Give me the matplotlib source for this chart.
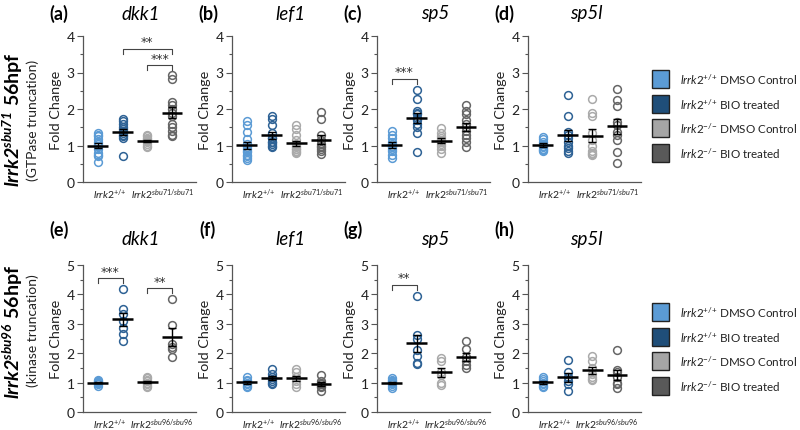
import numpy as np
import matplotlib
matplotlib.use('Agg')
import matplotlib.pyplot as plt
from matplotlib.patches import Rectangle
from matplotlib.ticker import MultipleLocator

FONT = 'Lato'
plt.rcParams['font.family'] = [FONT, 'DejaVu Sans']
plt.rcParams['mathtext.fontset'] = 'custom'
plt.rcParams['mathtext.rm'] = FONT
plt.rcParams['mathtext.it'] = FONT + ':italic'
plt.rcParams['mathtext.bf'] = FONT + ':bold'
plt.rcParams['mathtext.bfit'] = FONT + ':italic:bold'

# ---------------- data ----------------
genes = ['dkk1', 'lef1', 'sp5', 'sp5l']
top_labels = ['(a)', '(b)', '(c)', '(d)']
bottom_labels = ['(e)', '(f)', '(g)', '(h)']
top_xticklabels = [r'$\mathit{lrrk2}^{+/{+}}$', r'$\mathit{lrrk2}^{\mathit{sbu71/sbu71}}$']
bottom_xticklabels = [r'$\mathit{lrrk2}^{+/{+}}$', r'$\mathit{lrrk2}^{\mathit{sbu96/sbu96}}$']
legend_labels = [r'$\mathit{lrrk2}^{+/{+}}$ DMSO Control',
                 r'$\mathit{lrrk2}^{+/{+}}$ BIO treated',
                 r'$\mathit{lrrk2}^{-/{-}}$ DMSO Control',
                 r'$\mathit{lrrk2}^{-/{-}}$ BIO treated']

# sbu71 (top row), groups: WT DMSO, WT BIO, mut DMSO, mut BIO
a_dkk1 = [[1.35, 1.3, 1.25, 1.18, 1.1, 1.05, 1.0, 0.9, 0.8, 0.75, 0.7, 0.55],
          [1.72, 1.68, 1.6, 1.5, 1.45, 1.4, 1.35, 1.3, 1.25, 1.2, 0.72],
          [1.28, 1.25, 1.2, 1.18, 1.15, 1.12, 1.1, 1.05, 1.0, 0.95],
          [2.92, 2.83, 2.2, 2.1, 2.0, 1.9, 1.8, 1.6, 1.5, 1.4, 1.3, 1.25]]
b_lef1 = [[1.68, 1.56, 1.37, 1.18, 1.05, 0.95, 0.9, 0.85, 0.82, 0.75, 0.7, 0.65, 0.6],
          [1.8, 1.72, 1.55, 1.35, 1.2, 1.2, 1.1, 1.1, 1.05, 1.0, 0.95],
          [1.55, 1.45, 1.3, 1.15, 1.05, 1.0, 0.95, 0.9, 0.9, 0.85, 0.82, 0.8],
          [1.92, 1.72, 1.3, 1.15, 1.05, 1.0, 0.95, 0.9, 0.85, 0.78]]
c_sp5 = [[1.4, 1.3, 1.2, 1.1, 1.05, 1.0, 0.95, 0.9, 0.85, 0.75, 0.65],
         [2.52, 2.27, 1.95, 1.9, 1.85, 1.75, 1.7, 1.6, 1.5, 1.35, 0.82],
         [1.48, 1.35, 1.25, 1.2, 1.15, 1.1, 1.05, 1.0, 0.9, 0.8],
         [2.12, 1.95, 1.85, 1.7, 1.6, 1.5, 1.4, 1.3, 1.2, 1.1, 0.95]]
d_sp5l = [[1.22, 1.18, 1.1, 1.05, 1.0, 0.95, 0.9, 0.88, 0.85],
          [2.39, 1.8, 1.38, 1.3, 1.2, 1.1, 1.0, 0.92, 0.85, 0.8],
          [2.27, 1.9, 1.82, 1.35, 1.15, 1.0, 0.85, 0.8, 0.78, 0.75],
          [2.55, 2.25, 2.08, 1.65, 1.55, 1.38, 1.3, 1.15, 0.82, 0.53]]
# sbu96 (bottom row)
e_dkk1 = [[1.08, 1.05, 1.02, 1.0, 0.98, 0.95, 0.9],
          [4.2, 3.5, 3.35, 3.1, 2.85, 2.65, 2.4],
          [1.2, 1.15, 1.1, 1.05, 1.0, 0.95, 0.9, 0.85],
          [3.85, 2.97, 2.3, 2.2, 2.15, 1.87]]
f_lef1 = [[1.2, 1.1, 1.05, 1.0, 0.95, 0.9, 0.85],
          [1.45, 1.3, 1.2, 1.12, 1.05, 1.0, 0.95],
          [1.45, 1.35, 1.2, 1.05, 0.95, 0.85],
          [1.25, 1.05, 1.0, 0.95, 0.9, 0.85, 0.72]]
g_sp5 = [[1.15, 1.1, 1.05, 1.02, 1.0, 0.95, 0.9, 0.83],
         [3.93, 2.62, 2.5, 2.1, 1.9, 1.65, 1.62],
         [1.82, 1.75, 1.35, 1.25, 1.0, 0.93],
         [2.42, 2.15, 1.88, 1.72, 1.6, 1.5]]
h_sp5l = [[1.18, 1.12, 1.05, 1.0, 0.95, 0.9, 0.85],
          [1.78, 1.35, 1.2, 1.05, 0.95, 0.72],
          [1.92, 1.75, 1.5, 1.3, 1.2, 1.12, 1.1],
          [2.1, 1.42, 1.35, 1.2, 1.0, 0.95, 0.8]]

top_data = [a_dkk1, b_lef1, c_sp5, d_sp5l]
bottom_data = [e_dkk1, f_lef1, g_sp5, h_sp5l]

# significance brackets: (panel index, group from, group to, height, label)
top_sig = [(0, 1, 3, 3.65, '**'), (0, 2, 3, 3.2, '***'), (2, 0, 1, 2.83, '***')]
bottom_sig = [(0, 0, 1, 4.55, '***'), (0, 2, 3, 4.21, '**'), (2, 0, 1, 4.33, '**')]

marker_colors = ['#5B9BD5', '#2E6295', '#AAAAAA', '#666666']
legend_colors = ['#5B9BD5', '#1F4E79', '#A5A5A5', '#595959']

# ---------------- figure ----------------
W, H = 800, 431
fig = plt.figure(figsize=(8.0, 4.31), dpi=100)

axis_left_px = [83, 232, 377, 528]
axw = 113

def fx(px):
    return px / W

def fy(py):
    return 1 - py / H

def draw_row(data, labels, xticklabels, sigs, ymax, top_px, bot_px, label_y_px, title_y_px):
    axes = []
    for i in range(4):
        ax = fig.add_axes([fx(axis_left_px[i]), fy(bot_px), axw / W, (bot_px - top_px) / H])
        groups = data[i]
        for g, vals in enumerate(groups):
            x = g + 1
            v = np.array(vals)
            ax.plot(np.full(len(v), x), v, 'o', ms=5.6, mfc='none', mec=marker_colors[g], mew=1.1, zorder=2)
            m = v.mean()
            sem = v.std(ddof=1) / np.sqrt(len(v))
            ax.hlines(m, x - 0.42, x + 0.42, color='black', lw=1.8, zorder=4)
            ax.errorbar(x, m, yerr=sem, fmt='none', ecolor='black', elinewidth=1.0, capsize=3.2, capthick=1.0, zorder=4)
        ax.set_xlim(0.4, 4.97)
        ax.set_ylim(0, ymax)
        ax.yaxis.set_major_locator(MultipleLocator(1))
        ax.yaxis.set_minor_locator(MultipleLocator(0.5))
        ax.tick_params(axis='y', which='major', length=4, width=0.8, color='#555555', labelsize=10, pad=2, labelcolor='#222222')
        ax.tick_params(axis='y', which='minor', length=2.5, width=0.8, color='#555555')
        ax.set_xticks([1.5, 3.6])
        ax.set_xticklabels(xticklabels, fontsize=7.5)
        ax.tick_params(axis='x', length=0, pad=3, labelcolor='#222222')
        for s in ['top', 'right']:
            ax.spines[s].set_visible(False)
        for s in ['left', 'bottom']:
            ax.spines[s].set_color('#555555')
            ax.spines[s].set_linewidth(0.9)
        ax.set_ylabel('Fold Change', fontsize=10.4, labelpad=3, color='#222222')
        ax.patch.set_alpha(0)
        fig.text(fx(axis_left_px[i] - 24), fy(label_y_px), labels[i], fontsize=13, fontweight='bold',
                 ha='center', va='center')
        fig.text(fx(axis_left_px[i] + 58), fy(title_y_px), genes[i], fontsize=13.5, style='italic',
                 ha='center', va='center')
        axes.append(ax)
    drop = ymax * 0.035
    for (pi, g1, g2, y, lab) in sigs:
        ax = axes[pi]
        ax.plot([g1 + 1, g1 + 1, g2 + 1, g2 + 1], [y - drop, y, y, y - drop], color='#444444', lw=0.8, clip_on=False)
        ax.text((g1 + g2) / 2 + 1, y + drop * 0.1, lab, ha='center', va='bottom', fontsize=9,
                family='DejaVu Sans', color='#333333')
    return axes

draw_row(top_data, top_labels, top_xticklabels, top_sig, 4, 37, 183, 14, 14)
draw_row(bottom_data, bottom_labels, bottom_xticklabels, bottom_sig, 5, 266, 413, 230, 240)

# row labels
fig.text(fx(13), fy(120), r'$\mathbfit{lrrk2}^{\mathbfit{sbu71}}$ 56hpf', rotation=90, fontsize=14,
         fontweight='bold', ha='center', va='center')
fig.text(fx(33), fy(120), '(GTPase truncation)', rotation=90, fontsize=10, ha='center', va='center', color='#222222')
fig.text(fx(13), fy(332), r'$\mathbfit{lrrk2}^{\mathbfit{sbu96}}$ 56hpf', rotation=90, fontsize=14,
         fontweight='bold', ha='center', va='center')
fig.text(fx(33), fy(331), '(kinase truncation)', rotation=90, fontsize=10, ha='center', va='center', color='#222222')

# legends
def draw_legend(row_centers_px):
    for k, yc in enumerate(row_centers_px):
        fig.add_artist(Rectangle((fx(652), fy(yc + 9)), 17 / W, 18 / H, transform=fig.transFigure,
                                 facecolor=legend_colors[k], edgecolor='#222222', lw=1.0, zorder=5))
        fig.text(fx(680), fy(yc), legend_labels[k], fontsize=8.4, ha='left', va='center',
                 color='#222222', zorder=20)

draw_legend([80, 104.5, 129, 154])
draw_legend([313, 337.5, 362, 387])

fig.savefig('out.png', dpi=100)
